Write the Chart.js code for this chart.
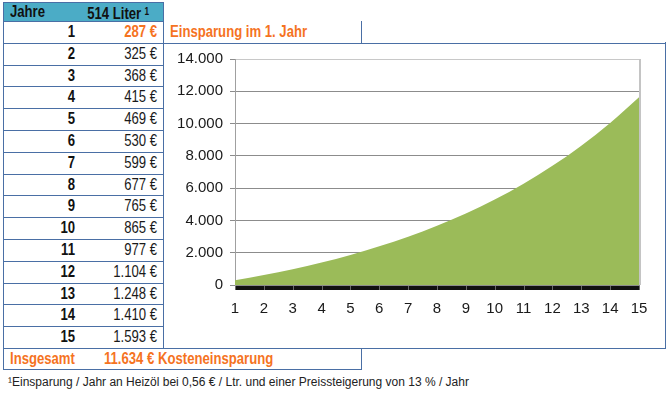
<!DOCTYPE html>
<html><head><meta charset="utf-8">
<script src="https://cdn.jsdelivr.net/npm/chart.js@4"></script>
<style>
body{margin:0;width:672px;height:397px;background:#fff;position:relative;overflow:hidden;font-family:"Liberation Sans",Arial,sans-serif;}
.hl{position:absolute;height:1px;background:#4a6fa5;}
.vl{position:absolute;width:1px;background:#4a6fa5;}
.t{position:absolute;font-size:16px;white-space:nowrap;color:#111;}
.b{font-weight:bold;}
.o{color:#f5731f;}
.nl{transform:scaleX(0.82);transform-origin:left center;}
.nr{transform:scaleX(0.82);transform-origin:right center;}
#wrap{position:absolute;left:164px;top:43px;width:500px;height:304px;}
#foot{position:absolute;left:8px;top:375px;font-family:"Liberation Sans",Arial,sans-serif;font-size:12px;line-height:14px;color:#222;white-space:nowrap;}
</style></head><body>
<div id="wrap"><canvas id="c" width="500" height="304"></canvas></div>
<div id="foot">¹Einsparung / Jahr an Heizöl bei 0,56 € / Ltr. und einer Preissteigerung von 13 % / Jahr</div>
<script>
// ---- data ----
const years = [1,2,3,4,5,6,7,8,9,10,11,12,13,14,15];
const yearlySavings = [287,325,368,415,469,530,599,677,765,865,977,1104,1248,1410,1593];
const yearlyLabels = ['287 €','325 €','368 €','415 €','469 €','530 €','599 €','677 €','765 €','865 €','977 €','1.104 €','1.248 €','1.410 €','1.593 €'];
const cumulativeSavings = [287,612,980,1395,1864,2394,2993,3670,4435,5300,6277,7381,8629,10039,11634];
const xTickLabels = ['1','2','3','4','5','6','7','8','9','10','11','12','13','14','15'];
const yTickValues = [0,2000,4000,6000,8000,10000,12000,14000];
const yTickLabels = ['0','2.000','4.000','6.000','8.000','10.000','12.000','14.000'];
const headerYear = 'Jahre';
const headerLiter = '514 Liter';
const firstYearText = 'Einsparung im 1. Jahr';
const totalLabel = 'Insgesamt';
const totalText = '11.634 € Kosteneinsparung';

// ---- table ----
const body = document.body;
function el(cls, css, text){const d=document.createElement('div');d.className=cls;Object.assign(d.style,css);if(text!==undefined)d.innerHTML=text;body.appendChild(d);return d;}
el('', {position:'absolute',left:'3px',top:'2px',width:'160px',height:'19px',background:'#4bacc6'});
const rowTop = i => Math.round(21 + i*21.8);
el('t b nl', {left:'10px',top:'2px',lineHeight:'19px'}, headerYear);
el('t b nr', {left:'60px',top:'2px',width:'89px',textAlign:'right',lineHeight:'19px'}, headerLiter+'<span style="font-size:10px;vertical-align:4px;margin-left:4px">1</span>');
years.forEach((y,i)=>{
  const top = rowTop(i), h = rowTop(i+1)-top;
  el('t b nr', {left:'20px',top:top+'px',width:'55px',textAlign:'right',lineHeight:h+'px'}, String(y));
  el('t nr'+(i===0?' b':''), {left:'80px',top:top+'px',width:'77px',textAlign:'right',lineHeight:h+'px',color:i===0?'#f5731f':'#1a1a1a'}, yearlyLabels[i]);
});
el('t b o nl', {left:'170px',top:'21px',lineHeight:'21px'}, firstYearText);
el('t b o nl', {left:'10px',top:'348px',lineHeight:'21px'}, totalLabel);
el('t b o nl', {left:'104px',top:'348px',lineHeight:'21px'}, totalText);
function hl(x1,x2,y){el('hl',{left:x1+'px',top:y+'px',width:(x2-x1+1)+'px'});}
function vl(x,y1,y2){el('vl',{left:x+'px',top:y1+'px',height:(y2-y1+1)+'px'});}
hl(3,163,2); hl(3,163,21);
for(let i=1;i<=15;i++){ const y=rowTop(i); if(i===1||i===15) hl(3,665,y); else hl(3,163,y); }
hl(3,361,369);
vl(3,2,369); vl(163,2,348); vl(361,21,42); vl(361,348,369); vl(665,42,348);

// ---- chart ----
const FONT = '"Liberation Sans",Arial,sans-serif';
const framePlugin = {
  id:'frame',
  afterDatasetsDraw(chart){
    const {ctx, chartArea:a} = chart;
    const xs = chart.scales.x;
    ctx.save();
    ctx.fillStyle='#c4c4c4';
    ctx.fillRect(a.right, a.top, 2, a.bottom-a.top);
    ctx.fillStyle='#111';
    ctx.fillRect(a.left, a.bottom+1, a.right-a.left+1, 4);
    ctx.fillStyle='#6a6a6a';
    xs.ticks.forEach((t,i)=>{ const px=Math.round(xs.getPixelForTick(i)); ctx.fillRect(px,a.bottom+1,1,4); });
    ctx.restore();
  }
};
new Chart(document.getElementById('c'), {
  type:'line',
  data:{labels:xTickLabels, datasets:[{data:cumulativeSavings, fill:'origin', backgroundColor:'#9bbb59', borderWidth:0, pointRadius:0, cubicInterpolationMode:'monotone'}]},
  options:{
    responsive:false, animation:false,
    layout:{padding:{left:0,right:25,top:14,bottom:0}},
    plugins:{legend:{display:false},tooltip:{enabled:false}},
    scales:{
      x:{offset:false,
        grid:{display:true,drawOnChartArea:false,tickLength:5,tickColor:'#8a8a8a'},
        border:{display:false},
        ticks:{font:{family:FONT,size:15},color:'#1a1a1a',padding:10,maxRotation:0,autoSkip:false},
        afterFit(s){s.height=62;}
      },
      y:{min:0,max:14000,
        afterBuildTicks(s){s.ticks=yTickValues.map(v=>({value:v}));},
        ticks:{font:{family:FONT,size:15},color:'#1a1a1a',padding:7,callback:(v)=>yTickLabels[yTickValues.indexOf(v)]},
        grid:{color:(c)=>c.tick && c.tick.value===14000?'#c8c8c8':'#8c8c8c',tickLength:5,tickColor:'#8c8c8c'},
        border:{display:true,color:'#a0a0a0'},
        afterFit(s){s.width=71;}
      }
    }
  },
  plugins:[framePlugin]
});
</script>
</body></html>
